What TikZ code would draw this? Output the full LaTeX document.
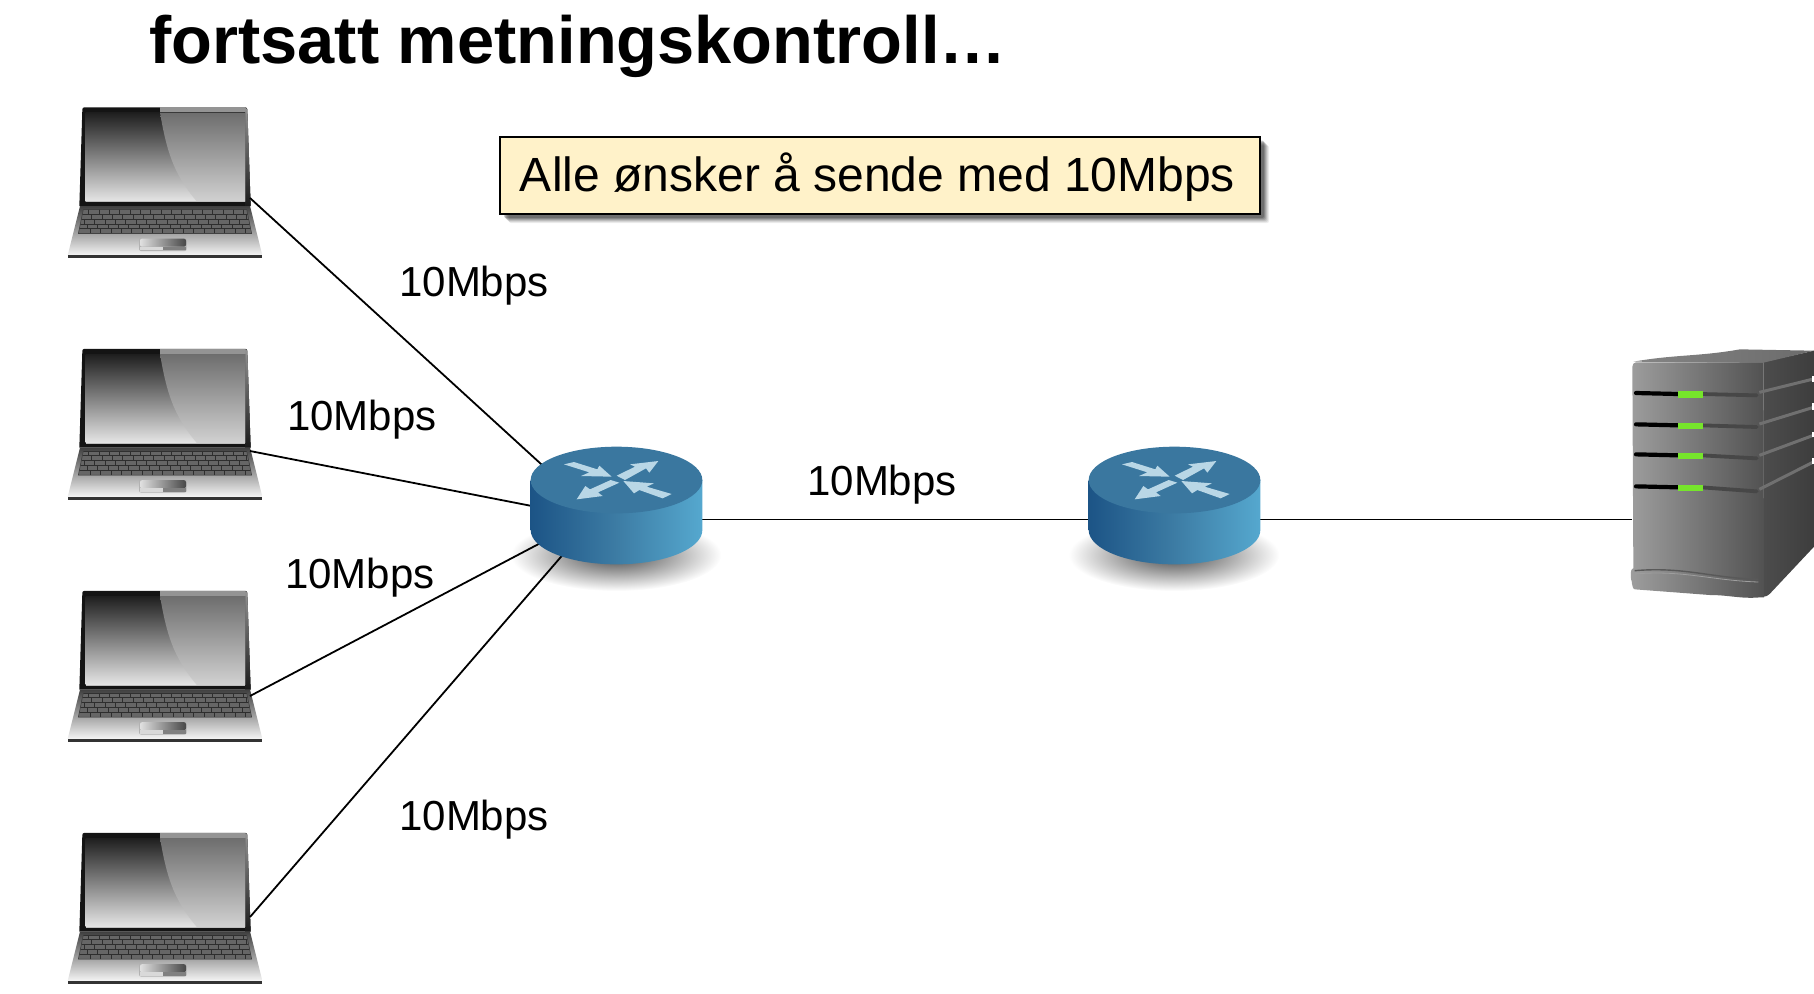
\documentclass[tikz,border=0pt]{standalone}
\usepackage{fontspec}
\setmainfont{Liberation Sans}
\definecolor{notefill}{HTML}{FFF2C9}
\definecolor{rtop}{HTML}{3A779F}
\definecolor{rleft}{HTML}{1C5486}
\definecolor{rright}{HTML}{55A8CF}
\definecolor{rarrow}{HTML}{B9D7E6}
\definecolor{ledgreen}{HTML}{76E52B}
\tikzset{
  x=0.5pt,y=-0.5pt,
  zoomed/.style={x=0.166667pt,y=-0.166667pt},
  link/.style={line width=0.9pt,black},
  rate/.style={font=\fontsize{21}{25}\selectfont,inner sep=0pt,anchor=center},
  anchorbox/.style={rectangle,inner sep=0pt,outer sep=0pt,draw=none},
  slotblack/.style={line width=2.1pt,line cap=round,black},
  slotgrey/.style={line width=1.9pt,line cap=round,black!72},
  sidestrip/.style={line width=1.5pt,black!56},
  laptop/.pic={
    \begin{scope}[zoomed]
      % lid
      \fill[black!92] (97,58) to[out=80,in=180] (103,52) -- (586,52) to[out=0,in=100] (592,58) -- (602,348) -- (88,348) -- cycle;
      \shade[top color=black!42,bottom color=black!90] (585,52) -- (592,58) -- (602,348) -- (585,348) -- cycle;
      \fill[black!42] (330,52) -- (585,52) -- (585,68) -- (330,68) -- cycle;
      % screen
      \shade[top color=black!88,bottom color=black!10] (107,68) rectangle (585,334);
      \shade[top color=black!57,bottom color=black!18] (330,68) to[out=-80,in=130] (440,334) -- (585,334) -- (585,68) -- cycle;
      \fill[black!25] (107,333) rectangle (585,335);
      % base
      \shade[top color=black!75,middle color=black!28,bottom color=black!4] (90,348) -- (600,348) -- (637,496) -- (53,496) -- cycle;
      \fill[black!80] (53,495) -- (637,495) -- (637,505) -- (53,505) -- cycle;
      % keyboard
      \begin{scope}
        \clip (100,358) -- (590,358) -- (605,431) -- (85,431) -- cycle;
        \fill[black!60] (80,355) rectangle (610,433);
        \foreach \r in {0,1,2,3,4} {
          \draw[black!82,line width=0.25pt] (80,{358+14.4*\r}) -- (610,{358+14.4*\r});
          \foreach \k in {0,...,17} {
            \draw[black!82,line width=0.25pt] ({85+31*\k+9*\r},{358+14.4*\r}) -- ({85+31*\k+9*\r},{372.4+14.4*\r});
          }
        }
        \draw[black!82,line width=0.25pt] (85,431) -- (605,431);
      \end{scope}
      \draw[black!75,line width=0.3pt] (100,358) -- (590,358) -- (605,431) -- (85,431) -- cycle;
      % touchpad
      \fill[black!30,rounded corners=1pt] (267,443) rectangle (410,483);
      \shade[left color=black!12,right color=black!72,rounded corners=1pt] (270,446) rectangle (408,470);
      \fill[black!50] (270,470) rectangle (408,480);
      \fill[black!15] (270,470) rectangle (340,480);
    \end{scope}
  },
  routershadow/.pic={
    \begin{scope}[zoomed]
      \shade[inner color=black!72,outer color=white] (318,375) ellipse [x radius=316,y radius=108];
    \end{scope}
  },
  routerbody/.pic={
    \begin{scope}[zoomed]
      \shade[left color=rleft,right color=rright,middle color=rtop!90!rright]
        (62,150) -- (62,300) arc[start angle=180,end angle=0,x radius=257.5,y radius=103] -- (577,150) -- cycle;
      \fill[rtop] (319.5,150) ellipse [x radius=257.5,y radius=100];
      % arrows
      \fill[rarrow] (162,103) -- (192,96) -- (262,118) -- (268,107) -- (305,140) -- (213,138) -- (238,127) -- cycle;
      \fill[rarrow] (445,93) -- (418,128) -- (408,115) -- (345,150) -- (320,137) -- (375,110) -- (360,103) -- cycle;
      \fill[rarrow] (200,208) -- (278,198) -- (264,187) -- (328,158) -- (302,150) -- (240,178) -- (226,168) -- cycle;
      \fill[rarrow] (340,153) -- (432,160) -- (410,170) -- (485,192) -- (458,205) -- (388,180) -- (372,190) -- cycle;
    \end{scope}
  },
  server/.pic={
    \begin{scope}[zoomed]
      % side
      \shade[left color=black!70,right color=black!76] (490,96) -- (642,62) -- (642,650) -- (520,780) to[out=-135,in=0] (490,800) -- cycle;
      % top
      \shade[left color=black!48,right color=black!58] (100,95) to[out=10,in=190] (420,58) -- (642,62) -- (490,98) -- cycle;
      % front
      \shade[left color=black!38,right color=black!68] (108,97) -- (490,97) -- (492,802) -- (480,802) to[out=185,in=0] (330,795) -- (105,778) to[out=180,in=90] (95,750) to[out=-90,in=180] (100,715) -- (97,110) to[out=90,in=180] cycle;
      % bottom rim
      \draw[black!65,line width=0.7pt] (104,722) to[out=5,in=178] (475,748);
      \draw[black!38,line width=0.4pt] (104,732) to[out=5,in=178] (475,756);
      % side strips
      \draw[sidestrip] (478,187) -- (640,147);
      \draw[sidestrip] (478,282) -- (640,232);
      \draw[sidestrip] (478,376) -- (640,316);
      \draw[sidestrip] (478,478) -- (640,396);
      % slots
      \foreach \yy/\yz in {190/196,284/291,374/385,470/484} {
        \draw[slotgrey] (305,\yy+2) -- (470,\yz);
        \draw[slotblack] (108,\yy-1) -- (235,\yy+2);
        \fill[ledgreen] (234,\yy-6) rectangle (310,\yy+13);
      }
      \fill[white] (636,138) rectangle (645,155);
      \fill[white] (636,220) rectangle (645,240);
      \fill[white] (636,305) rectangle (645,322);
      \fill[white] (636,385) rectangle (645,402);
    \end{scope}
  }
}
\begin{document}
\begin{tikzpicture}
\useasboundingbox (0,0) rectangle (1814,993);
% invisible device outlines, used as connector ends
\node[anchorbox,minimum width=84pt,minimum height=75.5pt] (l1) at (166,182.5) {};
\node[anchorbox,minimum width=84pt,minimum height=75.5pt] (l2) at (166,424) {};
\node[anchorbox,minimum width=84pt,minimum height=75.5pt] (l3) at (166,666) {};
\node[anchorbox,minimum width=84pt,minimum height=75.5pt] (l4) at (166,908) {};
\node[anchorbox,minimum width=85.5pt,minimum height=58.5pt] (r1) at (616.5,505.5) {};
\node[anchorbox,minimum width=85.5pt,minimum height=58.5pt] (r2) at (1174.5,505.5) {};
\node[anchorbox,minimum width=91pt,minimum height=123.5pt] (srv) at (1723,473.5) {};
% devices and shadows below connectors
\pic at (50,90) {laptop};
\pic at (50,331.5) {laptop};
\pic at (50,573.5) {laptop};
\pic at (50,815.5) {laptop};
\pic at (510,430) {routershadow};
\pic at (1068,430) {routershadow};
\pic at (1600,330) {server};
% connectors
\draw[link] ([yshift=-7.75pt]l1.east) -- ([yshift=-13.75pt]r1.center);
\draw[link] ([yshift=-13.5pt]l2.east) -- ([yshift=-8.5pt]r1.center);
\draw[link] ([yshift=-15pt]l3.east) -- ([yshift=1.25pt]r1.center);
\draw[link] ([yshift=-4.5pt]l4.east) -- ([yshift=6.5pt]r1.center);
\draw[link] ([yshift=-7pt]r1.east) -- ([yshift=-7pt]r2.west);
\draw[link] ([yshift=-7pt]r2.east) -- ([yshift=-23pt]srv.west);
% router bodies above connectors
\pic at (510,430) {routerbody};
\pic at (1068,430) {routerbody};
% title
\node[font=\fontsize{33.4}{38}\selectfont\bfseries,inner sep=0pt,anchor=center] (title) at (578,46) {fortsatt metningskontroll…};
% note
\foreach \o/\w in {9/0.07,8/0.09,7/0.11,6/0.14,5/0.17,4/0.2} {
  \fill[black,opacity=\w,rounded corners=1pt] (500+\o,136.5+\o) rectangle (1260+\o,214+\o);
}
\node[draw=black,line width=1pt,fill=notefill,minimum width=380pt,minimum height=38.75pt,inner sep=0pt] (note) at (880,175.25) {};
\node[font=\fontsize{24}{28}\selectfont,inner sep=0pt] (notetext) at (877.5,177.5) {Alle ønsker å sende med 10Mbps};
% rates
\node[rate] (t1) at (474,285.5) {10Mbps};
\node[rate] (t2) at (362,419.5) {10Mbps};
\node[rate] (t3) at (360,577.5) {10Mbps};
\node[rate] (t4) at (474,819.5) {10Mbps};
\node[rate] (t5) at (882,484.5) {10Mbps};
\end{tikzpicture}
\end{document}
